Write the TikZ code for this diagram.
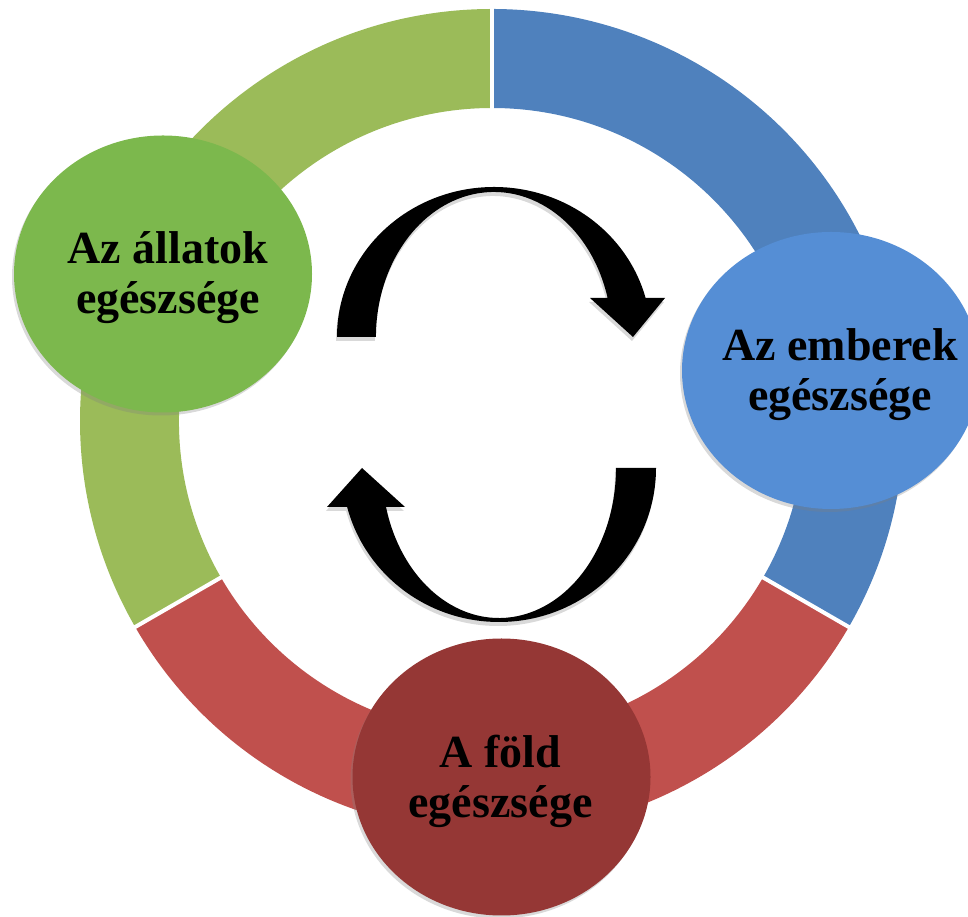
\documentclass[tikz,border=0pt]{standalone}
\usepackage{fontspec}
\setmainfont{Liberation Serif}
\usetikzlibrary{shapes.geometric,shadows}
\definecolor{ringgreen}{HTML}{9BBB59}
\definecolor{ringblue}{HTML}{4F81BD}
\definecolor{ringred}{HTML}{C0504D}
\definecolor{bubgreen}{HTML}{7CB84D}
\definecolor{bubblue}{HTML}{558ED5}
\definecolor{bubred}{HTML}{953735}
\tikzset{
  bubble/.style={ellipse, minimum width=298pt, minimum height=277pt, inner sep=0pt,
    drop shadow={opacity=0.3, shadow xshift=-2pt, shadow yshift=-3pt}},
  lbl/.style={align=center, text=black, font=\bfseries\fontsize{46}{50}\selectfont},
  bigarrow/.style={fill=black, drop shadow={opacity=0.3, shadow xshift=-1pt, shadow yshift=-4pt}}
}
\begin{document}
\begin{tikzpicture}[x=1pt,y=1pt]
\useasboundingbox (0,0) rectangle (968,917);
\clip (0,0) rectangle (968,917);
\coordinate (c) at (492,496);

% ring
\fill[ringgreen] (c) ++(90:412) arc[start angle=90, end angle=210, radius=412pt] -- ++(30:99) arc[start angle=210, end angle=90, radius=313pt] -- cycle;
\fill[ringblue] (c) ++(-30:412) arc[start angle=-30, end angle=90, radius=412pt] -- ++(-90:99) arc[start angle=90, end angle=-30, radius=313pt] -- cycle;
\fill[ringred] (c) ++(210:412) arc[start angle=210, end angle=330, radius=412pt] -- ++(150:99) arc[start angle=330, end angle=210, radius=313pt] -- cycle;
\foreach \a in {90,210,330} \draw[white, line width=4pt] (c) ++(\a:300) -- ++(\a:125);

% arrows
\fill[bigarrow] (337,580) arc[start angle=180, end angle=15.07, x radius=157pt, y radius=150pt]
  -- (665,619) -- (633,580) -- (590,619) -- (607.6,619)
  arc[start angle=15.6, end angle=180, x radius=118pt, y radius=145pt] -- cycle;
\fill[bigarrow] (656,449) arc[start angle=0, end angle=-165.33, x radius=157pt, y radius=154pt]
  -- (327,410) -- (362,449) -- (405,410) -- (386,410)
  arc[start angle=-164.93, end angle=0, x radius=117pt, y radius=150pt] -- cycle;

% bubbles
\node[bubble, fill=bubgreen, label={[lbl, xshift=5pt, yshift=-4pt]center:Az állatok\\egészsége}] (allatok) at (163,643) {};
\node[bubble, fill=bubblue, label={[lbl, xshift=9pt, yshift=-4pt]center:Az emberek\\egészsége}] (emberek) at (831,546.5) {};
\node[bubble, fill=bubred, label={[lbl, xshift=-1pt, yshift=-4pt]center:A föld\\egészsége}] (fold) at (501.5,140) {};
\end{tikzpicture}
\end{document}
